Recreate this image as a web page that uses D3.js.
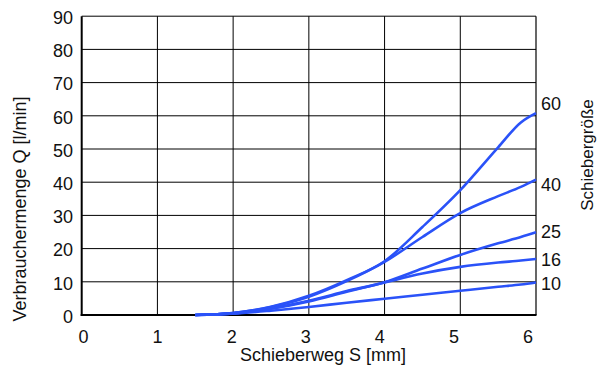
<!DOCTYPE html>
<html>
<head>
<meta charset="utf-8">
<script src="https://cdn.jsdelivr.net/npm/d3@7"></script>
<style>
  html, body { margin: 0; padding: 0; background: #fff; }
  svg { display: block; font-family: Arial, "Liberation Sans", sans-serif; }
</style>
</head>
<body>
<svg id="chart" width="598" height="365"></svg>
<script>
// Schieberweg S [mm]
const strokeMm = [1.5, 2, 2.5, 3, 3.5, 4, 4.5, 5, 5.5, 5.8, 6];
// Verbrauchermenge Q [l/min] per Schiebergröße
const q60 = [0, 0.6, 2.5, 5.8, 10.5, 16.2, 26.5, 37.6, 50.5, 58.0, 60.8];
const q40 = [0, 0.6, 2.4, 5.5, 10.2, 16.0, 23.5, 30.7, 35.8, 38.6, 40.8];
const q25 = [0, 0.5, 2.0, 4.3, 7.2, 9.9, 14.0, 18.1, 21.6, 23.5, 24.9];
const q16 = [0, 0.5, 1.9, 4.1, 7.0, 9.8, 12.5, 14.5, 15.8, 16.4, 16.9];
const q10 = [0, 0.4, 1.3, 2.4, 3.7, 4.9, 6.1, 7.3, 8.5, 9.2, 9.8];
const sizeNames = ["60", "40", "25", "16", "10"];
const xTicks = [0, 1, 2, 3, 4, 5, 6];
const yTicks = [0, 10, 20, 30, 40, 50, 60, 70, 80, 90];

const seriesList = [q60, q40, q25, q16, q10].map((vals, i) => ({
  name: sizeNames[i],
  points: strokeMm.map((s, j) => ({ s, q: vals[j] }))
}));

const svg = d3.select("#chart");
const plot = { left: 81.7, right: 536, top: 16.2, bottom: 315 };
const fontSize = 18;
const ink = "#111";

const x = d3.scaleLinear().domain([0, 6]).range([plot.left, plot.right]);
const y = d3.scaleLinear().domain([0, 90]).range([plot.bottom, plot.top]);
// tick labels sit on a slightly narrower span than the grid
const xLabel = d3.scaleLinear().domain([0, 6]).range([83.5, 528]);

// grid
const grid = svg.append("g").attr("stroke", "#000").attr("stroke-width", 1);
grid.selectAll("line.v").data(xTicks.slice(1, -1)).join("line")
  .attr("class", "v")
  .attr("x1", d => x(d)).attr("x2", d => x(d))
  .attr("y1", plot.top).attr("y2", plot.bottom);
grid.selectAll("line.h").data(yTicks.slice(1, -1)).join("line")
  .attr("class", "h")
  .attr("x1", plot.left).attr("x2", plot.right)
  .attr("y1", d => y(d)).attr("y2", d => y(d));

// frame
svg.append("line").attr("x1", plot.left).attr("x2", plot.right).attr("y1", plot.top).attr("y2", plot.top)
  .attr("stroke", "#000").attr("stroke-width", 1);
svg.append("line").attr("x1", plot.right).attr("x2", plot.right).attr("y1", plot.top).attr("y2", plot.bottom)
  .attr("stroke", "#000").attr("stroke-width", 1.2);
svg.append("line").attr("x1", plot.left).attr("x2", plot.left).attr("y1", plot.top).attr("y2", plot.bottom + 1)
  .attr("stroke", "#000").attr("stroke-width", 2);
svg.append("line").attr("x1", plot.left - 1).attr("x2", plot.right + 0.5).attr("y1", plot.bottom).attr("y2", plot.bottom)
  .attr("stroke", "#000").attr("stroke-width", 2);

// y tick labels
svg.append("g").selectAll("text").data(yTicks).join("text")
  .attr("x", 73).attr("y", d => y(d) + 1.5).attr("dy", "0.35em")
  .attr("text-anchor", "end").attr("font-size", fontSize).attr("fill", ink)
  .text(d => d);

// x tick labels
svg.append("g").selectAll("text").data(xTicks).join("text")
  .attr("x", d => xLabel(d)).attr("y", 342.5)
  .attr("text-anchor", "middle").attr("font-size", fontSize).attr("fill", ink)
  .text(d => d);

// curves
const line = d3.line().x(d => x(d.s)).y(d => y(d.q)).curve(d3.curveMonotoneX);
svg.append("g").selectAll("path").data(seriesList).join("path")
  .attr("d", d => line(d.points))
  .attr("fill", "none").attr("stroke", "#2a52f8").attr("stroke-width", 2.6)
  .attr("stroke-linejoin", "round").attr("stroke-linecap", "butt");

// series labels at the right end
const labelY = { "60": 104, "40": 185, "25": 232, "16": 260, "10": 284 };
svg.append("g").selectAll("text").data(seriesList).join("text")
  .attr("x", 541).attr("y", d => labelY[d.name]).attr("dy", "0.35em")
  .attr("font-size", fontSize).attr("fill", ink)
  .text(d => d.name);

// axis titles
svg.append("text")
  .attr("transform", "translate(26,209) rotate(-90)")
  .attr("text-anchor", "middle").attr("font-size", fontSize).attr("fill", ink)
  .text("Verbrauchermenge Q [l/min]");
svg.append("text")
  .attr("x", 323).attr("y", 361)
  .attr("text-anchor", "middle").attr("font-size", fontSize).attr("fill", ink)
  .text("Schieberweg S [mm]");
svg.append("text")
  .attr("transform", "translate(593,155) rotate(-90)")
  .attr("text-anchor", "middle").attr("font-size", 17).attr("fill", ink)
  .text("Schiebergröße");
</script>
</body>
</html>
